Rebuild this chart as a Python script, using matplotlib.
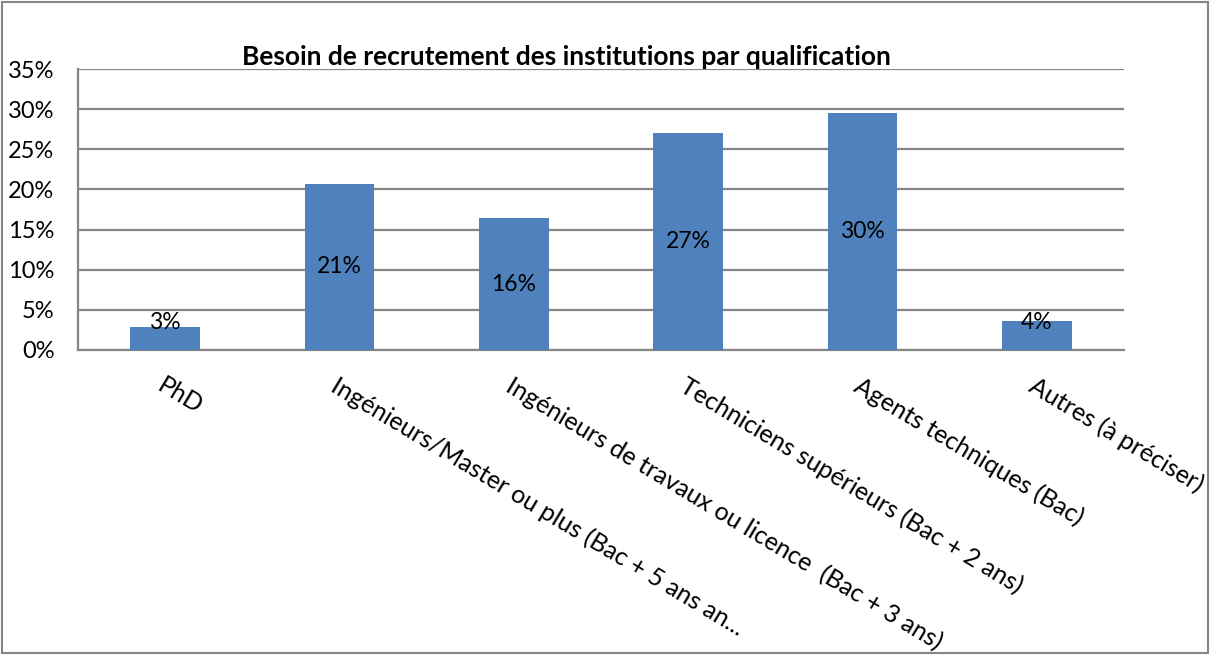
import matplotlib.pyplot as plt
from matplotlib.patches import Rectangle

plt.rcParams['font.family'] = ['Lato', 'DejaVu Sans']

# data
categories = ['PhD',
              'Ingénieurs/Master ou plus (Bac + 5 ans an...',
              'Ingénieurs de travaux ou licence  (Bac + 3 ans)',
              'Techniciens supérieurs (Bac + 2 ans)',
              'Agents techniques (Bac)',
              'Autres (à préciser)']
values = [2.85, 20.7, 16.4, 27.0, 29.5, 3.6]
labels = ['3%', '21%', '16%', '27%', '30%', '4%']
yticks = [0, 5, 10, 15, 20, 25, 30, 35]

grey = '#868686'

fig = plt.figure(figsize=(12.12, 6.55), dpi=100)
ax = fig.add_axes([78/1212, 1 - 350/655, (1124-78)/1212, (350-69)/655])

x = range(len(categories))
ax.bar(x, values, width=0.4, color='#4F81BD', zorder=3)

for i, (v, lab) in enumerate(zip(values, labels)):
    ax.text(i, max(v/2, 3.4), lab, ha='center', va='center', fontsize=16.5, color='black', zorder=4)

ax.set_xlim(-0.5, len(categories) - 0.5)
ax.set_ylim(0, 35)
ax.set_yticks(yticks)
ax.set_yticklabels([f'{t}%' for t in yticks], fontsize=17)
ax.yaxis.grid(True, color=grey, linewidth=1.6)
ax.set_axisbelow(True)
ax.tick_params(axis='y', length=0, pad=17)
ax.tick_params(axis='x', length=0, pad=0)

ax.set_xticks(list(x))
ax.set_xticklabels(categories, rotation=-31, ha='left', va='top',
                   rotation_mode='anchor', fontsize=18)
for lbl in ax.get_xticklabels():
    lbl.set_y(-0.085)

for side in ['top', 'right']:
    ax.spines[side].set_visible(False)
ax.spines['left'].set_color(grey)
ax.spines['left'].set_linewidth(1.6)
ax.spines['bottom'].set_color(grey)
ax.spines['bottom'].set_linewidth(1.6)

fig.text(566/1212, 1 - 57/655, 'Besoin de recrutement des institutions par qualification',
         ha='center', va='center', fontsize=19, fontweight='bold')

fig.patches.append(Rectangle((2/1212, 2/655), 1206/1212, 651/655, transform=fig.transFigure,
                             fill=False, edgecolor=grey, linewidth=1.5))

fig.savefig('out.png', dpi=100)
